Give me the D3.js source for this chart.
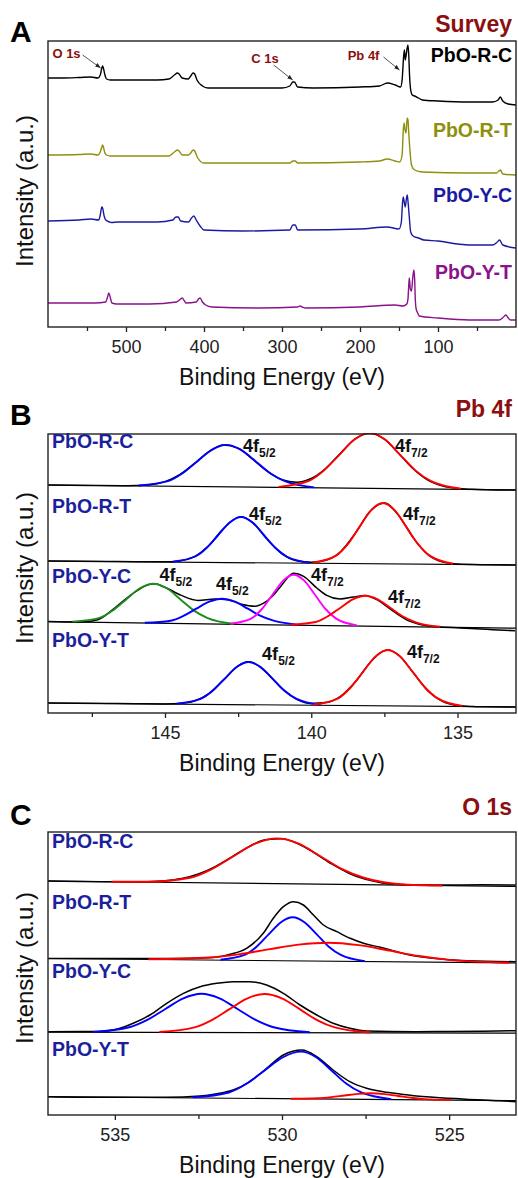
<!DOCTYPE html>
<html>
<head>
<meta charset="utf-8">
<script src="https://cdnjs.cloudflare.com/ajax/libs/d3/7.8.5/d3.min.js"></script>
<style>
  body { margin: 0; background: #fff; }
  svg text { font-family: "Liberation Sans", Arial, sans-serif; }
</style>
</head>
<body>
<svg id="fig" width="518" height="1178"></svg>
<script>
// ---------------- data (intensities in a.u.) ----------------
var samples = ["PbO-R-C", "PbO-R-T", "PbO-Y-C", "PbO-Y-T"];

// A: survey spectra [binding energy, intensity]
var surveyTicks = [500, 400, 300, 200, 100];
var surveyMinor = [550, 450, 350, 250, 150, 50];
var surveyOffsets = [249, 172, 106, 24];
var surveyNotes = ["O 1s", "C 1s", "Pb 4f"];
var surveyNoteEnergy = [530, 285, 143];
var surveyNoteLevel = [10, -2, 8];

var surveyRC = [[600,0],[580,0],[560,0.5],[545,1],[536,0],[533,3],[531,10],[530,12],[529,10],[527,3],[525,-1],[520,-2],[500,-2],[460,-2],[445,-1],[438,3],[434,5],[432,4],[428,0],[420,-1],[417,2],[414,5],[412,4],[409,-2],[402,-8],[395,-10],[350,-10],[300,-10],[290,-8],[286,-4],[284,-4],[280,-9],[260,-10],[200,-9],[175,-8],[165,-5],[155,-7],[148,-9],[146,-2],[144,22],[143,28],[142,18],[141,22],[139.5,30],[138.5,33],[137.5,23],[136.5,3],[135,-12],[133,-17],[130,-18],[125,-20],[120,-22],[100,-23],[60,-24],[30,-24],[23,-22],[20,-19],[17,-23],[10,-26],[0,-27]];
var surveyRT = [[600,0],[560,0.5],[545,1],[536,0],[533,3],[531,8],[530,10],[529,8],[527,2],[525,0],[520,-1],[445,-1],[438,3],[434,5],[432,4],[428,0],[420,0],[417,2],[414,5],[412,4],[408,-3],[400,-8],[350,-8],[290,-8],[286,-6],[283,-6],[280,-8],[200,-7],[175,-6],[165,-4],[155,-6],[149,-7],[146,0],[144.5,25],[143.5,32],[142.5,26],[141,22],[139.5,37],[138.5,35],[137.5,22],[136,5],[134,-10],[130,-15],[120,-17],[60,-18],[25,-18],[22,-16],[20,-15],[17,-19],[0,-20]];
var surveyYC = [[600,0],[560,1],[545,2],[535,1],[533,6],[531,14],[530,13],[528,5],[526,1],[521,-1],[519,-1.5],[510,-1],[460,-1],[440,1],[436,4],[433,4],[430,0],[420,-1],[416,3],[413,5],[410,1],[405,-5],[400,-9],[350,-10],[290,-9],[286,-4],[283,-4],[280,-9],[200,-8],[165,-6],[150,-8],[147,-1],[145.5,18],[144.5,24],[143.5,20],[142,14],[140.5,22],[139.5,26],[138.5,20],[137,6],[135,-11],[132,-15],[125,-17],[118,-19],[100,-20],[75,-23],[60,-24],[30,-24],[24,-21],[21,-19],[17,-24],[0,-27]];
var surveyYT = [[600,0],[540,0],[526,1],[524,5],[522,10],[520,5],[518,0],[512,-1],[470,-1],[435,1],[430,4],[428,5],[425,2],[423,0],[410,1],[407,4],[405,5],[402,1],[398,-2],[390,-4],[330,-5],[280,-4],[277,-3],[274,-4],[270,-5],[200,-4],[155,-2],[145,-3],[140,-1],[138.5,4],[137.5,18],[136.7,25],[135.5,14],[134,12],[132.5,24],[131,33],[130,25],[129,2],[128,-6],[126,-10],[124,-13],[100,-15],[60,-17],[22,-17],[16,-14],[13,-12],[10,-15],[7,-17],[0,-17]];

// B: Pb 4f
var pbTicks = [145, 140, 135];
var pbMinor = [147.5, 142.5, 137.5];
var pbOffsets = [228, 152, 91.3, 10];

var pbRC_data = [[149,0],[147.5,-0.5],[146.5,-0.7],[146,-0.5],[145.5,0.3],[145,3.4],[144.5,10.3],[144,21.3],[143.5,33.4],[143,39.9],[142.5,36.7],[142,25.8],[141.5,13.6],[141,5.3],[140.5,2.8],[140,6.5],[139.5,16.8],[139,31.8],[138.5,46.1],[138,52.0],[137.5,45.8],[137,31.2],[136.5,15.7],[136,4.6],[135.5,-1.1],[135,-3.5],[134.5,-4.3],[134,-4.7],[133,-5]];
var pbRC_bg = [[149,0],[133,-5]];
var pbRC_blue = [[139.9,-2.4],[140.9,3.8],[141.4,11.8],[141.9,23.6],[142.4,35.1],[142.9,40.1],[143.4,35.1],[143.9,23.6],[144.4,11.8],[144.9,3.8],[145.9,-0.5]];
var pbRC_red = [[134.88,-3.8],[135.92,4.1],[136.44,14.6],[136.96,30.2],[137.48,45.5],[138.0,52.0],[138.52,45.5],[139.04,30.2],[139.56,14.6],[140.08,4.1],[141.12,-1.9]];

var pbRT_data = [[149,0],[147,-0.5],[146,-0.75],[145,-0.8],[144.5,0.1],[144,4.3],[143.5,15.5],[143,32.4],[142.5,43.6],[142.4,44.2],[142,38.3],[141.5,21.5],[141,7.1],[140.5,0.2],[140,-1.3],[139.5,0.8],[139,9.3],[138.5,27.5],[138,49.3],[137.5,57.9],[137,45.1],[136.5,22.6],[136,6.1],[135.5,-1.1],[135,-3.1],[134,-3.75],[133,-4]];
var pbRT_bg = [[149,0],[133,-4]];
var pbRT_blue = [[140.06,-1.7],[140.84,4.5],[141.23,13.2],[141.62,26.0],[142.01,38.6],[142.4,44.0],[142.79,38.6],[143.18,26.0],[143.57,13.2],[143.96,4.5],[144.74,-0.6]];
var pbRT_red = [[135.15,-2.8],[135.95,5.4],[136.35,16.9],[136.75,34.1],[137.15,50.9],[137.55,58.0],[137.95,50.9],[138.35,34.1],[138.75,16.9],[139.15,5.4],[139.95,-1.6]];

var pbYC_data = [[149,0.3],[147.86,-0.3],[147.3,2],[146.72,13.7],[146.15,27],[145.58,37],[145.35,38],[145.01,34.5],[144.44,26.3],[143.87,21.3],[143.3,22.7],[142.85,22],[142.39,17.5],[141.93,15.5],[141.6,19],[141.25,28],[141.0,37],[140.61,48.5],[140.26,45.3],[139.81,33.7],[139.47,26.3],[139.02,22.7],[138.56,24.7],[138.16,26.3],[137.76,22],[137.19,10.3],[136.62,0.3],[136.05,-4],[134.91,-6.3],[133.78,-8],[133.03,-9]];
var pbYC_bg = [[149,0],[133,-6.5]];
var pbYC_green = [[142.64,-2.15],[143.56,3.85],[144.02,11.35],[144.48,22.5],[144.94,33.4],[145.4,38.0],[145.86,33.4],[146.32,22.5],[146.78,11.35],[147.24,3.85],[148.16,0.1]];
var pbYC_blue = [[140.41,-3.2],[141.29,0.99],[141.73,5.8],[142.17,13.0],[142.61,20.0],[143.05,23.0],[143.49,20.0],[143.93,13.0],[144.37,5.8],[144.81,0.99],[145.69,-1.1]];
var pbYC_magenta = [[138.44,-3.7],[139.16,3.36],[139.52,12.95],[139.88,27.2],[140.24,41.1],[140.6,47.0],[140.96,41.1],[141.32,27.2],[141.68,12.95],[142.04,3.36],[142.76,-2.0]];
var pbYC_red = [[135.6,-5.1],[136.45,-0.34],[136.88,5.45],[137.3,14.0],[137.73,22.4],[138.15,26.0],[138.58,22.4],[139.0,14.0],[139.43,5.45],[139.85,-0.34],[140.7,-3.0]];

var pbYT_data = [[149,0],[147,-0.5],[146,-0.75],[145,-0.9],[144.5,-0.45],[144,2.0],[143.5,9.4],[143,23.1],[142.5,37.2],[142.15,41.2],[142,40.3],[141.5,29.6],[141,14.2],[140.5,3.7],[140,-0.4],[139.5,0.4],[139,6.6],[138.5,20.9],[138,40.1],[137.5,52.4],[137.38,53.1],[137,47.6],[136.5,29.6],[136,11.7],[135.5,1.5],[135,-2.4],[134.5,-3.45],[134,-3.75],[133,-4]];
var pbYT_bg = [[149,0],[133,-4]];
var pbYT_blue = [[139.68,-1.9],[140.5,4.06],[140.91,12.18],[141.32,24.2],[141.73,35.96],[142.14,41.0],[142.55,35.96],[142.96,24.2],[143.37,12.18],[143.78,4.06],[144.6,-0.6]];
var pbYT_red = [[134.83,-2.9],[135.68,4.65],[136.1,15.27],[136.53,31.03],[136.96,46.4],[137.38,53.0],[137.81,46.4],[138.23,31.03],[138.66,15.27],[139.08,4.65],[139.93,-1.7]];

// C: O 1s
var oTicks = [535, 530, 525];
var oMinor = [532.5, 527.5];
var oOffsets = [234, 156.5, 83.3, 18.3];

var oRC_data = [[537,0],[536,-0.4],[535,-0.8],[534.5,-0.9],[534,-0.7],[533.5,0.15],[533,2.4],[532.5,7.0],[532,14.4],[531.5,24.2],[531,34.2],[530.5,41.2],[530,42.3],[529.5,37.0],[529,27.4],[528.5,16.8],[528,7.8],[527.5,1.6],[527,-1.9],[526.5,-3.6],[526,-4.0],[525,-4],[524,-3.8],[523,-4]];
var oRC_bg = [[537,0],[523,-5.5]];
var oRC_red = [[525.2,-4.55],[526.25,-3.7],[527.55,3.22],[528.2,11.88],[528.85,24.74],[529.5,37.28],[530.15,42.66],[530.8,37.28],[531.45,24.74],[532.1,11.88],[532.75,3.22],[534.05,-0.7],[535.1,-0.75]];

var oRT_data = [[537,0],[535,0],[533,0],[532.05,1],[531.55,4.2],[531.06,10.2],[530.56,25.2],[530.26,40.2],[529.96,51.8],[529.66,56.8],[529.36,53.5],[529.06,43.5],[528.76,33.5],[528.36,26.8],[527.96,20.2],[527.56,15.2],[527.06,11.2],[526.56,6.8],[526.17,3.5],[525.47,0.2],[524.47,-2.2],[523,-3.2]];
var oRT_bg = [[537,0],[523,-4.5]];
var oRT_blue = [[527.52,-2.6],[528.24,3.53],[528.6,11.8],[528.96,24.1],[529.32,36.06],[529.68,41.2],[530.04,36.06],[530.4,24.1],[530.76,11.8],[531.12,3.53],[531.84,-1.2]];
var oRT_red = [[523.2,-4.24],[525.0,-1.36],[525.9,2.44],[526.8,7.95],[527.7,13.33],[528.6,15.8],[529.5,13.91],[530.4,9.11],[531.3,4.17],[532.2,0.96],[534.0,-0.76]];

var oYC_data = [[537,0],[535.45,0.2],[534.95,2.4],[534.45,8.4],[533.95,16.7],[533.45,28.4],[532.95,38.4],[532.45,45],[531.95,48.4],[531.46,50],[530.96,50],[530.46,46.7],[529.96,38.4],[529.46,26.7],[528.96,16.7],[528.47,8.4],[527.97,3.4],[527.47,0.7],[526,0],[525,0.3],[524,0.5],[523,1]];
var oYC_bg = [[537,-0.5],[523,-1.5]];
var oYC_blue = [[529.17,-0.6],[530.25,4.44],[530.79,11.81],[531.33,22.75],[531.87,33.42],[532.41,38.0],[532.95,33.42],[533.49,22.75],[534.03,11.81],[534.57,4.44],[535.65,-0.2]];
var oYC_red = [[527.37,-0.8],[528.42,4.26],[528.95,11.62],[529.47,22.53],[529.99,33.17],[530.52,37.74],[531.05,33.17],[531.57,22.53],[532.1,11.62],[532.62,4.26],[533.67,-0.3]];

var oYT_data = [[537,0],[535.45,-0.6],[533.45,-0.6],[532.45,0.7],[531.95,3.0],[531.46,6.7],[530.96,15],[530.46,28.4],[529.96,41.7],[529.4,46.7],[528.96,40],[528.47,26.7],[527.97,15],[527.47,8.4],[526.97,5],[526.47,2.7],[525.97,0.7],[525.47,-0.6],[524.5,-2.5],[523.5,-4],[523,-5]];
var oYT_bg = [[537,0],[523,-4]];
var oYT_blue = [[526.73,-2.4],[527.63,4.21],[528.08,13.18],[528.53,26.49],[528.98,39.47],[529.43,45.04],[529.97,39.47],[530.51,26.49],[531.05,13.18],[531.59,4.21],[532.67,-0.7]];
var oYT_red = [[524.93,-3.38],[525.73,-2.39],[526.13,-1.11],[526.53,0.75],[526.93,2.55],[527.33,3.4],[527.73,2.78],[528.13,1.21],[528.53,-0.42],[528.93,-1.48],[529.73,-2.01]];

// ---------------- styles / layout ----------------
var L = 48, R = 516;
var navy = "#1b1f9c", darkRed = "#8b0f0f";
var surveyColors = ["#000000", "#8f8f0c", "#1a1aa0", "#8a128a"];
var fitBlue = "#0000ff", fitRed = "#ff0000", fitGreen = "#1e8c1e", fitMagenta = "#ff00ff";

var svg = d3.select("#fig");
var defs = svg.append("defs");
defs.append("marker").attr("id", "arrowhead")
    .attr("viewBox", "0 0 10 10").attr("refX", 10).attr("refY", 5)
    .attr("markerWidth", 6).attr("markerHeight", 6).attr("orient", "auto")
    .append("path").attr("d", "M0,1L10,5L0,9z").attr("fill", "#222");

function byEnergy(pts) {
    return pts.slice().sort(function (a, b) { return b[0] - a[0]; });
}

function dataCurve(pts) { return { pts: pts, color: "#000", width: 1.5 }; }
function bgCurve(pts) { return { pts: pts, color: "#000", width: 1.2 }; }
function fitCurve(pts, color) { return { pts: pts, color: color, width: 1.9 }; }

function drawPanel(cfg) {
    var x = d3.scaleLinear().domain(cfg.domain).range([L, R]);
    var y = d3.scaleLinear().domain([0, cfg.bottom - cfg.top]).range([cfg.bottom, cfg.top]);
    var g = svg.append("g");

    var clipId = "clip" + cfg.letter;
    defs.append("clipPath").attr("id", clipId).append("rect")
        .attr("x", L).attr("y", cfg.top - 1).attr("width", R - L).attr("height", cfg.bottom - cfg.top + 1);
    var plot = g.append("g").attr("clip-path", "url(#" + clipId + ")");

    cfg.rows.forEach(function (row) {
        var line = d3.line()
            .x(function (d) { return x(d[0]); })
            .y(function (d) { return y(row.offset + d[1]); })
            .curve(d3.curveMonotoneX);
        row.curves.forEach(function (c) {
            plot.append("path")
                .attr("d", line(byEnergy(c.pts)))
                .attr("fill", "none")
                .attr("stroke", c.color)
                .attr("stroke-width", c.width)
                .attr("stroke-linejoin", "round");
        });
    });

    // frame
    g.append("rect").attr("x", L).attr("y", cfg.top)
        .attr("width", R - L).attr("height", cfg.bottom - cfg.top)
        .attr("fill", "none").attr("stroke", "#222").attr("stroke-width", 1.4);

    // x axis, major + minor ticks
    var ax = g.append("g").attr("transform", "translate(0," + cfg.bottom + ")")
        .call(d3.axisBottom(x).tickValues(cfg.ticks).tickSize(5).tickPadding(8).tickFormat(d3.format("d")));
    ax.select(".domain").remove();
    ax.attr("font-size", 18).attr("font-family", "Liberation Sans, Arial, sans-serif");
    ax.selectAll("text").attr("fill", "#222");
    ax.selectAll("line").attr("stroke", "#222").attr("stroke-width", 1.3);

    var axm = g.append("g").attr("transform", "translate(0," + cfg.bottom + ")")
        .call(d3.axisBottom(x).tickValues(cfg.minor).tickSize(4).tickFormat(""));
    axm.select(".domain").remove();
    axm.selectAll("line").attr("stroke", "#222").attr("stroke-width", 1.3);

    g.append("text").attr("x", (L + R) / 2).attr("y", cfg.bottom + 58)
        .attr("text-anchor", "middle").attr("font-size", 23).attr("fill", "#111")
        .text("Binding Energy (eV)");

    g.append("text").attr("transform", "translate(33," + cfg.yTitleY + ") rotate(-90)")
        .attr("text-anchor", "middle").attr("font-size", 24).attr("fill", "#111")
        .text("Intensity (a.u.)");

    g.append("text").attr("x", 10).attr("y", cfg.letterY)
        .attr("font-size", 30).attr("font-weight", "bold").attr("fill", "#000")
        .text(cfg.letter);

    g.append("text").attr("x", R - 4).attr("y", cfg.titleY)
        .attr("text-anchor", "end").attr("font-size", 23).attr("font-weight", "bold")
        .attr("fill", darkRed).text(cfg.title);

    return { x: x, y: y, g: g };
}

// ---------------- panel A ----------------
var surveySeries = [surveyRC, surveyRT, surveyYC, surveyYT];
var A = drawPanel({
    letter: "A", title: "Survey", top: 41, bottom: 327, domain: [600, 0],
    ticks: surveyTicks, minor: surveyMinor, yTitleY: 191, letterY: 42, titleY: 32,
    rows: surveySeries.map(function (s, i) {
        return { offset: surveyOffsets[i], curves: [{ pts: s, color: surveyColors[i], width: 1.4 }] };
    })
});
var surveyLabelLift = [16, 18, 19, 24];
samples.forEach(function (name, i) {
    A.g.append("text").attr("x", R - 4).attr("y", A.y(surveyOffsets[i] + surveyLabelLift[i]))
        .attr("text-anchor", "end").attr("font-size", 19.5).attr("font-weight", "bold")
        .attr("fill", surveyColors[i]).text(name);
});
var noteText = [[-20, -10], [-14, -17], [-20, -10]];
var noteTail = [[-18, -13], [-19, -15], [-16, -13]];
var noteTipDx = [-2, -1, -5];
surveyNotes.forEach(function (t, i) {
    var tx = A.x(surveyNoteEnergy[i]) + noteTipDx[i];
    var ty = A.y(surveyOffsets[0] + surveyNoteLevel[i]);
    A.g.append("line")
        .attr("x1", tx + noteTail[i][0]).attr("y1", ty + noteTail[i][1])
        .attr("x2", tx).attr("y2", ty)
        .attr("stroke", "#444").attr("stroke-width", 0.9)
        .attr("marker-end", "url(#arrowhead)");
    A.g.append("text").attr("x", tx + noteText[i][0]).attr("y", ty + noteText[i][1])
        .attr("text-anchor", "end").attr("font-size", 13).attr("font-weight", "bold")
        .attr("fill", darkRed).text(t);
});

// ---------------- panel B ----------------
var pbFits = [
    [fitCurve(pbRC_blue, fitBlue), fitCurve(pbRC_red, fitRed)],
    [fitCurve(pbRT_blue, fitBlue), fitCurve(pbRT_red, fitRed)],
    [fitCurve(pbYC_green, fitGreen), fitCurve(pbYC_blue, fitBlue), fitCurve(pbYC_magenta, fitMagenta), fitCurve(pbYC_red, fitRed)],
    [fitCurve(pbYT_blue, fitBlue), fitCurve(pbYT_red, fitRed)]
];
var pbData = [pbRC_data, pbRT_data, pbYC_data, pbYT_data];
var pbBg = [pbRC_bg, pbRT_bg, pbYC_bg, pbYT_bg];
var B = drawPanel({
    letter: "B", title: "Pb 4f", top: 434, bottom: 713, domain: [149, 133],
    ticks: pbTicks, minor: pbMinor, yTitleY: 568, letterY: 425, titleY: 417,
    rows: pbData.map(function (d, i) {
        return { offset: pbOffsets[i], curves: [dataCurve(d), bgCurve(pbBg[i])].concat(pbFits[i]) };
    })
});

// peak labels, anchored in data coordinates [eV, a.u. above row]
var pbPeakNames = [["5/2", "7/2"], ["5/2", "7/2"], ["5/2", "5/2", "7/2", "7/2"], ["5/2", "7/2"]];
var pbPeakAt = [
    [[142.33, 33], [137.14, 33]],
    [[142.13, 41], [136.86, 41]],
    [[145.19, 40.3], [143.26, 32], [140.01, 41], [137.38, 19]],
    [[141.68, 43], [136.73, 45]]
];
var rowLabelLiftB = [37, 48, 39, 56];
var rowLabelLiftC = [33, 50, 54, 41];

function rowLabels(P, offsets, lifts) {
    samples.forEach(function (name, i) {
        P.g.append("text").attr("x", L + 4).attr("y", P.y(offsets[i] + lifts[i]))
            .attr("font-size", 19.5).attr("font-weight", "bold").attr("fill", navy).text(name);
    });
}
rowLabels(B, pbOffsets, rowLabelLiftB);

pbPeakNames.forEach(function (names, i) {
    names.forEach(function (sub, j) {
        var at = pbPeakAt[i][j];
        var t = B.g.append("text").attr("x", B.x(at[0])).attr("y", B.y(pbOffsets[i] + at[1]))
            .attr("font-size", 18).attr("font-weight", "bold").attr("fill", "#111");
        t.append("tspan").text("4f");
        t.append("tspan").attr("font-size", 12).attr("dy", 5).text(sub);
    });
});

// ---------------- panel C ----------------
var oFits = [
    [fitCurve(oRC_red, fitRed)],
    [fitCurve(oRT_blue, fitBlue), fitCurve(oRT_red, fitRed)],
    [fitCurve(oYC_blue, fitBlue), fitCurve(oYC_red, fitRed)],
    [fitCurve(oYT_blue, fitBlue), fitCurve(oYT_red, fitRed)]
];
var oData = [oRC_data, oRT_data, oYC_data, oYT_data];
var oBg = [oRC_bg, oRT_bg, oYC_bg, oYT_bg];
var C = drawPanel({
    letter: "C", title: "O 1s", top: 832, bottom: 1115, domain: [537, 523],
    ticks: oTicks, minor: oMinor, yTitleY: 968, letterY: 825, titleY: 815,
    rows: oData.map(function (d, i) {
        return { offset: oOffsets[i], curves: [dataCurve(d), bgCurve(oBg[i])].concat(oFits[i]) };
    })
});
rowLabels(C, oOffsets, rowLabelLiftC);
</script>
</body>
</html>
